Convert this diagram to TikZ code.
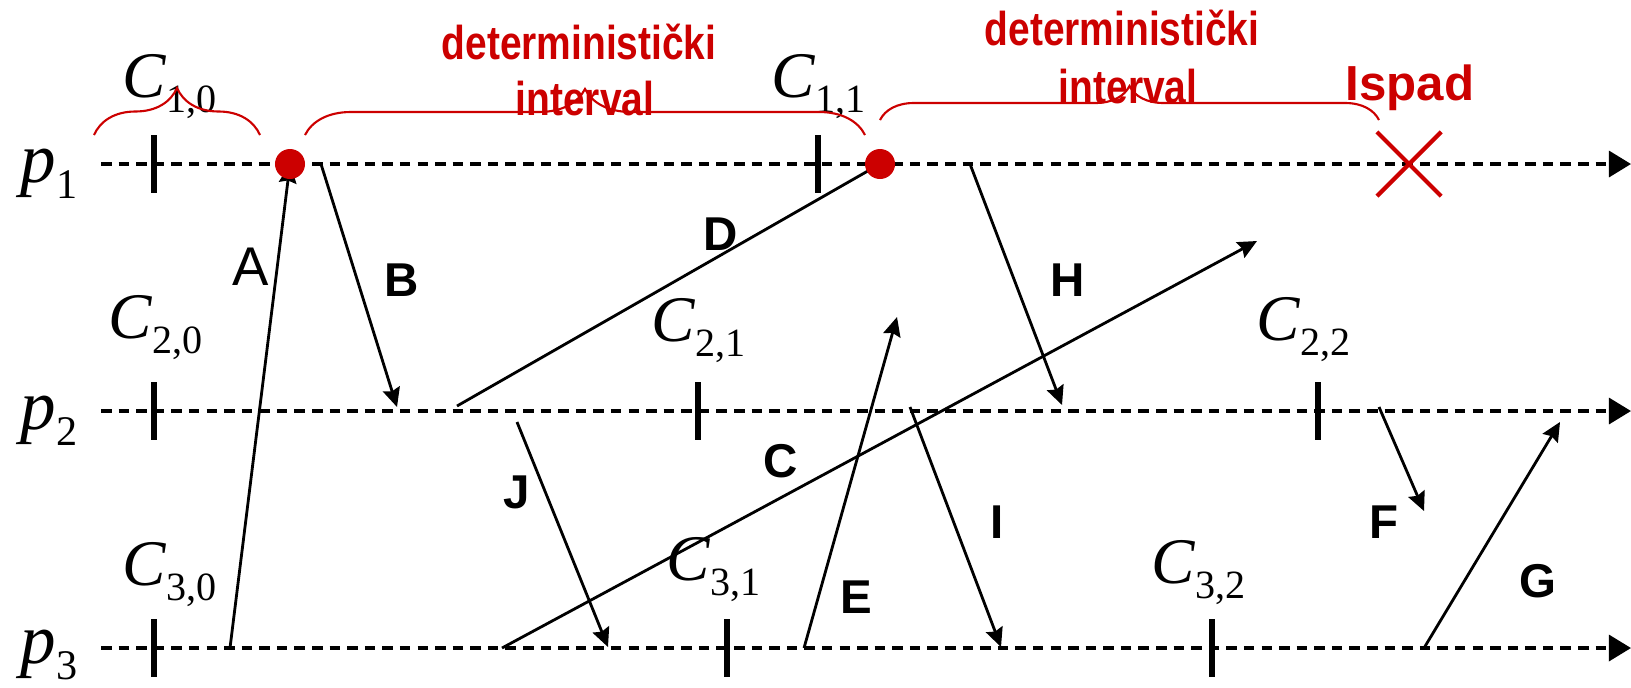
\documentclass[tikz,border=0pt]{standalone}
\usepackage{fontspec}
\setmainfont{Liberation Serif}
\setsansfont{Liberation Sans}
\newfontfamily\narrowsf[FakeStretch=0.82]{Liberation Sans}
\usepackage{xcolor}
\usetikzlibrary{arrows.meta,decorations.pathreplacing,shapes.misc}
\definecolor{fred}{HTML}{CC0000}
\tikzset{
  proc/.style={line width=1pt,dash pattern=on 3pt off 2pt,-{Triangle[length=6.3pt,width=7.4pt]}},
  msg/.style={line width=0.8pt,-{Stealth[length=5.4pt,width=5pt,inset=0.7pt]}},
  ckpt/.style={line width=1.5pt},
  brc/.style={decorate,decoration={brace,amplitude=#1},draw=fred,line width=0.6pt},
  evt/.style={circle,fill=fred,inner sep=0pt,minimum size=0.3cm},
  lbl/.style={inner sep=0pt,font=\sffamily\bfseries\fontsize{13.5}{14}\selectfont},
  rtxt/.style={inner sep=0pt,text=fred,font=\narrowsf\bfseries\fontsize{13.5}{15}\selectfont},
  cname/.style={inner sep=0pt,anchor=base west}
}
\newcommand{\ckbar}[2]{\draw[ckpt] (#1,#2-29) -- (#1,#2+29);}
\newcommand{\cpt}[2]{\fontsize{18.5}{20}\selectfont\textit{C}\raisebox{-4.3pt}{\fontsize{11.4}{12}\selectfont #1,#2}}
\newcommand{\pname}[1]{\fontsize{20.2}{22}\selectfont\textit{p}\raisebox{-4.6pt}{\fontsize{12}{13}\selectfont #1}}

\begin{document}
\begin{tikzpicture}[x=0.01cm,y=-0.01cm]
\useasboundingbox (0,0) rectangle (1631,687);
% processes
\node[cname] (p1) at (20,182) {\pname{1}};
\node[cname] (p2) at (20,429) {\pname{2}};
\node[cname] (p3) at (20,663) {\pname{3}};
\coordinate (s1) at (101,164); \coordinate (t1) at (1631,164);
\coordinate (s2) at (101,411); \coordinate (t2) at (1631,411);
\coordinate (s3) at (101,648); \coordinate (t3) at (1631,648);
\draw[proc] (s1) -- (t1);
\draw[proc] (s2) -- (t2);
\draw[proc] (s3) -- (t3);
% checkpoints
\ckbar{154}{164} \ckbar{818}{164}
\ckbar{154}{411} \ckbar{698}{411} \ckbar{1318}{411}
\ckbar{154}{648} \ckbar{727}{648} \ckbar{1212}{648}
\node[cname] (c10) at (122,97) {\cpt{1}{0}};
\node[cname] (c11) at (771,97) {\cpt{1}{1}};
\node[cname] (c20) at (108,338) {\cpt{2}{0}};
\node[cname] (c21) at (651,341) {\cpt{2}{1}};
\node[cname] (c22) at (1256,340) {\cpt{2}{2}};
\node[cname] (c30) at (122,585) {\cpt{3}{0}};
\node[cname] (c31) at (666,580) {\cpt{3}{1}};
\node[cname] (c32) at (1151,583) {\cpt{3}{2}};
% message ends
\coordinate (e1) at (290,164); \coordinate (e2) at (880,164);
\coordinate (a0) at (230,648);
\coordinate (b0) at (321,164); \coordinate (b1) at (397,407);
\coordinate (d0) at (457,406);
\coordinate (h0) at (970,164); \coordinate (h1) at (1062,405);
\coordinate (c0) at (502,648); \coordinate (c1) at (1257,241);
\coordinate (j0) at (517,422); \coordinate (j1) at (608,647);
\coordinate (f0) at (804,648); \coordinate (f1) at (897,317);
\coordinate (i0) at (910,407); \coordinate (i1) at (1001,647);
\coordinate (g0) at (1379,407); \coordinate (g1) at (1424,511);
\coordinate (k0) at (1424,648); \coordinate (k1) at (1560,422);
\draw[msg] (a0) -- (e1);
\draw[msg] (b0) -- (b1);
\draw[msg,shorten >=-4pt] (d0) -- (e2);
\draw[msg] (h0) -- (h1);
\draw[msg] (c0) -- (c1);
\draw[msg] (j0) -- (j1);
\draw[msg] (f0) -- (f1);
\draw[msg] (i0) -- (i1);
\draw[msg] (g0) -- (g1);
\draw[msg] (k0) -- (k1);
\node[inner sep=0pt,font=\sffamily\fontsize{15.5}{16}\selectfont] (la) at (251,267) {A};
\node[lbl] (lb) at (402,280) {B};
\node[lbl] (lc) at (781,461) {C};
\node[lbl] (ld) at (721,234) {D};
\node[lbl] (le) at (856,597) {E};
\node[lbl] (lf) at (1384,522) {F};
\node[lbl] (lg) at (1538,581) {G};
\node[lbl] (lh) at (1068,280) {H};
\node[lbl] (li) at (997,522) {I};
\node[lbl] (lj) at (517,492) {J};
% events and intervals
\node[evt] (dot1) at (e1) {};
\node[evt] (dot2) at (e2) {};
\node[cross out,draw=fred,line width=1.2pt,inner sep=0pt,minimum size=0.6cm] (crash) at (1409,164) {};
\draw[brc=0.47cm] (94,135) -- (260,135);
\draw[brc=0.46cm] (305,135) -- (865,135);
\draw[brc=0.34cm] (880,120) -- (1379,120);
\node[rtxt,anchor=base] (det1) at (579,59) {deterministički};
\node[rtxt,anchor=base] (int1) at (585,115) {interval};
\node[rtxt,anchor=base] (det2) at (1122,45) {deterministički};
\node[rtxt,anchor=base] (int2) at (1128,103) {interval};
\node[inner sep=0pt,anchor=base,text=fred,font=\sffamily\bfseries\fontsize{14}{15}\selectfont] (fail) at (1410,100) {Ispad};
\end{tikzpicture}
\end{document}
